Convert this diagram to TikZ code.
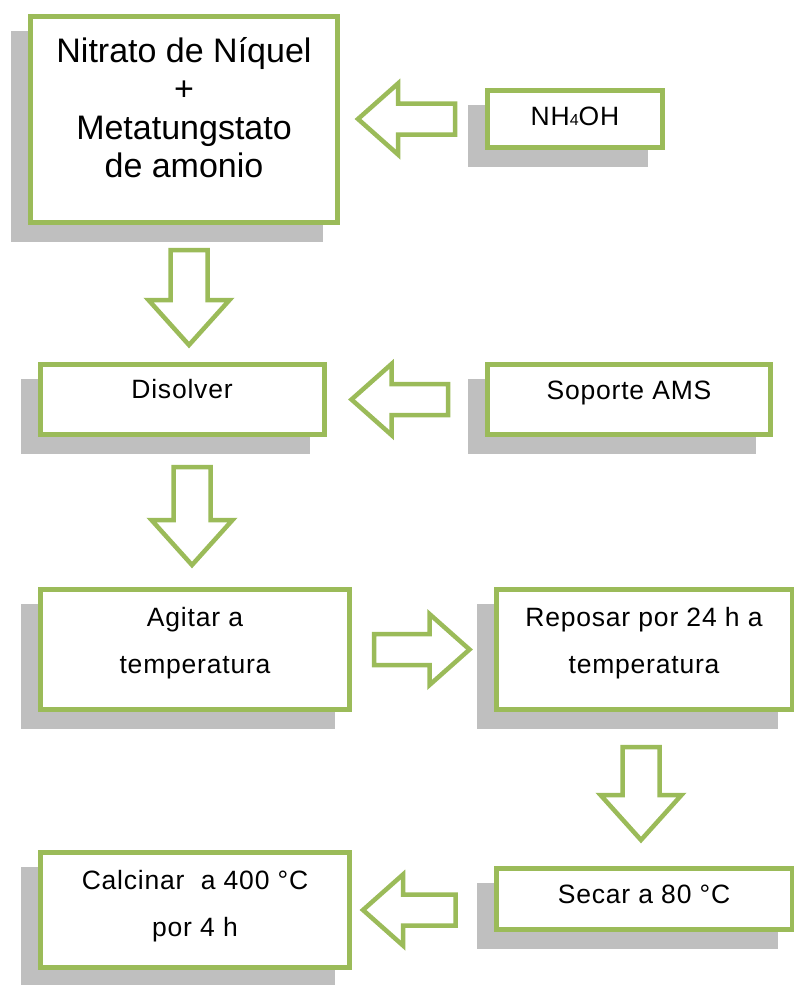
\documentclass[tikz,border=0pt]{standalone}
\usepackage{fontspec}
\setmainfont{Liberation Sans}[LetterSpace=3]
\newfontfamily\bigfont{Liberation Sans}
\usetikzlibrary{calc, shadows}
\definecolor{boxgreen}{HTML}{9BBB59}
\definecolor{shadowgrey}{HTML}{BFBFBF}
\newcommand\boxtext[2][8pt]{\raisebox{0pt}[\height][\dimexpr\depth+#1*2\relax]{%
    \begin{tabular}{@{}c@{}}#2\end{tabular}}}

\begin{document}
\begin{tikzpicture}[
    x=1pt, y=-1pt,
    box/.style={rectangle, draw=boxgreen, fill=white, line width=5pt, inner sep=0pt,
        align=center, font=\fontsize{26.5}{47}\selectfont,
        drop shadow={shadow xshift=-17pt, shadow yshift=-17pt, fill=shadowgrey,
            draw=shadowgrey, opacity=1}},
    bigbox/.style={box, font=\bigfont\fontsize{34}{38.5}\selectfont},
    blockarr/.style={draw=boxgreen, fill=white, line width=4.5pt, line join=miter,
        to path={let \p1=(\tikztostart), \p2=(\tikztotarget),
            \n1={atan2(\y2-\y1,\x2-\x1)} in
            ($(\p1)+({\n1+90}:\arrs)$) -- ($(\p2)+({\n1+180}:\arrk)+({\n1+90}:\arrs)$)
            -- ($(\p2)+({\n1+180}:\arrk)+({\n1+90}:\arrh)$) -- (\p2)
            -- ($(\p2)+({\n1+180}:\arrk)+({\n1-90}:\arrh)$)
            -- ($(\p2)+({\n1+180}:\arrk)+({\n1-90}:\arrs)$)
            -- ($(\p1)+({\n1-90}:\arrs)$) -- cycle}},
    harr/.style={blockarr, /utils/exec={\def\arrs{15.5pt}\def\arrh{35.5pt}\def\arrk{40pt}}},
    varr/.style={blockarr, /utils/exec={\def\arrs{18.5pt}\def\arrh{40.5pt}\def\arrk{45pt}}}
]
    \useasboundingbox (0,0) rectangle (793,985);

    % row 1: precursors
    \node[bigbox, minimum width=307pt, minimum height=206pt] (nitrato) at (184,119.5)
        {\boxtext[7pt]{Nitrato de Níquel\\+\\Metatungstato\\de amonio}};
    \node[box, minimum width=175pt, minimum height=57pt] (nh4) at (575,119)
        {\boxtext[3pt]{NH{\fontsize{16}{16}\selectfont 4}OH}};

    % row 2: support
    \node[box, minimum width=284pt, minimum height=70pt] (disolver) at (182,399.5)
        {\boxtext[10pt]{Disolver}};
    \node[box, minimum width=283pt, minimum height=70pt] (soporte) at (629,399.5)
        {\boxtext[9.5pt]{Soporte AMS}};

    % row 3: stirring and rest
    \node[box, minimum width=309pt, minimum height=120pt] (agitar) at (195,649.5)
        {\boxtext[9pt]{Agitar a\\temperatura}};
    \node[box, minimum width=296pt, minimum height=120pt] (reposar) at (644,649.5)
        {\boxtext[9pt]{Reposar por 24 h a\\temperatura}};

    % row 4: drying and calcination
    \node[box, minimum width=296pt, minimum height=61pt] (secar) at (644,899)
        {\boxtext[4.5pt]{Secar a 80 °C}};
    \node[box, minimum width=309pt, minimum height=115pt] (calcinar) at (195,910)
        {\boxtext[6.5pt]{Calcinar\ \ a 400 °C\\por 4 h}};

    % block arrows
    \draw[harr] ($(nh4.west)+(-30,0)$) to ($(nitrato.east |- nh4.west)+(18,0)$);
    \draw[varr] ($(nitrato.south)+(5,25)$) to ($(nitrato.south |- disolver.north)+(5,-17)$);
    \draw[harr] ($(soporte.west)+(-37,0)$) to ($(disolver.east)+(25,0)$);
    \draw[varr] ($(disolver.south)+(10,30)$) to ($(disolver.south |- agitar.north)+(10,-22)$);
    \draw[harr] ($(agitar.east)+(22,0)$) to ($(reposar.west)+(-24,0)$);
    \draw[varr] ($(reposar.south)+(-3,35)$) to ($(reposar.south |- secar.north)+(-3,-26)$);
    \draw[harr] ($(secar.west |- calcinar.east)+(-38,0)$) to ($(calcinar.east)+(11,0)$);
\end{tikzpicture}
\end{document}
